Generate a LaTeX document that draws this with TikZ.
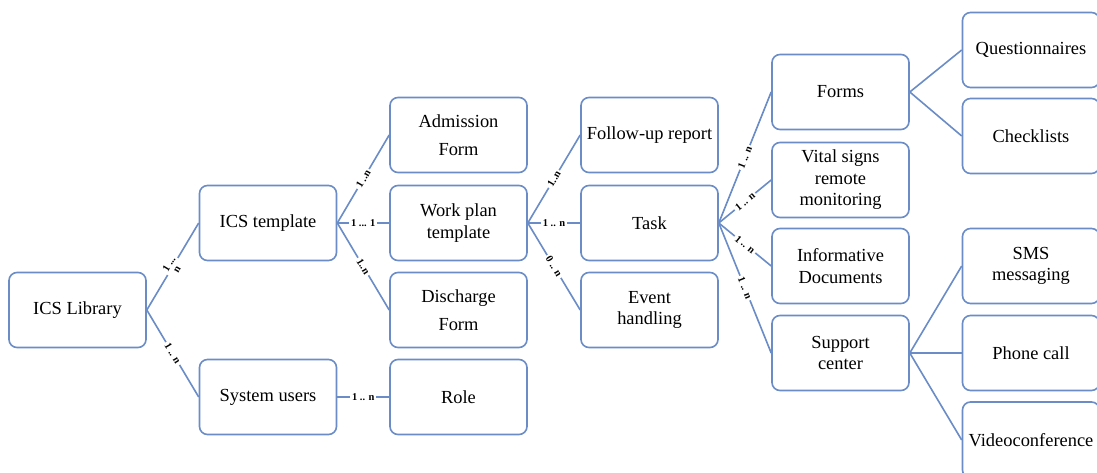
\documentclass[tikz,border=0pt]{standalone}
\usepackage{fontspec}
\setmainfont{Liberation Serif}
\definecolor{bline}{HTML}{6A8CC7}
\begin{document}
\begin{tikzpicture}[x=1bp,y=-1bp,
  box/.style={draw=bline, line width=1.6bp, rounded corners=8bp, minimum width=137bp, minimum height=75bp,
    align=center, inner sep=2bp, font=\fontsize{18.5}{21.5}\selectfont, fill=white},
  conn/.style={draw=bline, line width=1.6bp},
  lbl/.style={midway, sloped, fill=white, inner sep=2bp, font=\bfseries\fontsize{10.5}{10.5}\selectfont, text=black}]
\useasboundingbox[fill=white] (0,0) rectangle (1097,473);
\node[box] (lib) at (77.5,310) {ICS Library};
\node[box] (tmpl) at (268,223) {ICS template};
\node[box] (users) at (268,397) {System users};
\node[box] (adm) at (458.5,135) {Admission\\[6.5bp]Form};
\node[box] (wp) at (458.5,223) {Work plan\\template};
\node[box] (dis) at (458.5,310) {Discharge\\[6.5bp]Form};
\node[box] (role) at (458.5,397) {Role};
\node[box] (fu) at (649.5,135) {Follow-up report};
\node[box] (task) at (649.5,223) {Task};
\node[box] (ev) at (649.5,310) {Event\\handling};
\node[box] (forms) at (840.5,92) {Forms};
\node[box] (vital) at (840.5,180) {Vital signs\\remote\\monitoring};
\node[box] (info) at (840.5,266) {Informative\\Documents};
\node[box] (supp) at (840.5,353) {Support\\center};
\node[box] (quest) at (1031,50) {Questionnaires};
\node[box] (check) at (1031,136) {Checklists};
\node[box] (sms) at (1031,266) {SMS\\messaging};
\node[box] (phone) at (1031,353) {Phone call};
\node[box, minimum height=76bp] (video) at (1031,440) {Videoconference};

\draw[conn] (lib.east) -- node[lbl, align=center, font=\bfseries\fontsize{10.5}{9}\selectfont] {1 ...\\n} (tmpl.west);
\draw[conn] (lib.east) -- node[lbl] {1 .. n} (users.west);
\draw[conn] (tmpl.east) -- node[lbl] {1 ..n} (adm.west);
\draw[conn] (tmpl.east) -- node[lbl] {1 ... 1} (wp.west);
\draw[conn] (tmpl.east) -- node[lbl] {1..n} (dis.west);
\draw[conn] (users.east) -- node[lbl] {1 .. n} (role.west);
\draw[conn] (wp.east) -- node[lbl] {1..n} (fu.west);
\draw[conn] (wp.east) -- node[lbl] {1 .. n} (task.west);
\draw[conn] (wp.east) -- node[lbl] {0 .. n} (ev.west);
\draw[conn] (task.east) -- node[lbl] {1 .. n} (forms.west);
\draw[conn] (task.east) -- node[lbl] {1 .. n} (vital.west);
\draw[conn] (task.east) -- node[lbl] {1 .. n} (info.west);
\draw[conn] (task.east) -- node[lbl] {1 .. n} (supp.west);
\draw[conn] (forms.east) -- (quest.west);
\draw[conn] (forms.east) -- (check.west);
\draw[conn] (supp.east) -- (sms.west);
\draw[conn] (supp.east) -- (phone.west);
\draw[conn] (supp.east) -- (video.west);
\end{tikzpicture}
\end{document}
